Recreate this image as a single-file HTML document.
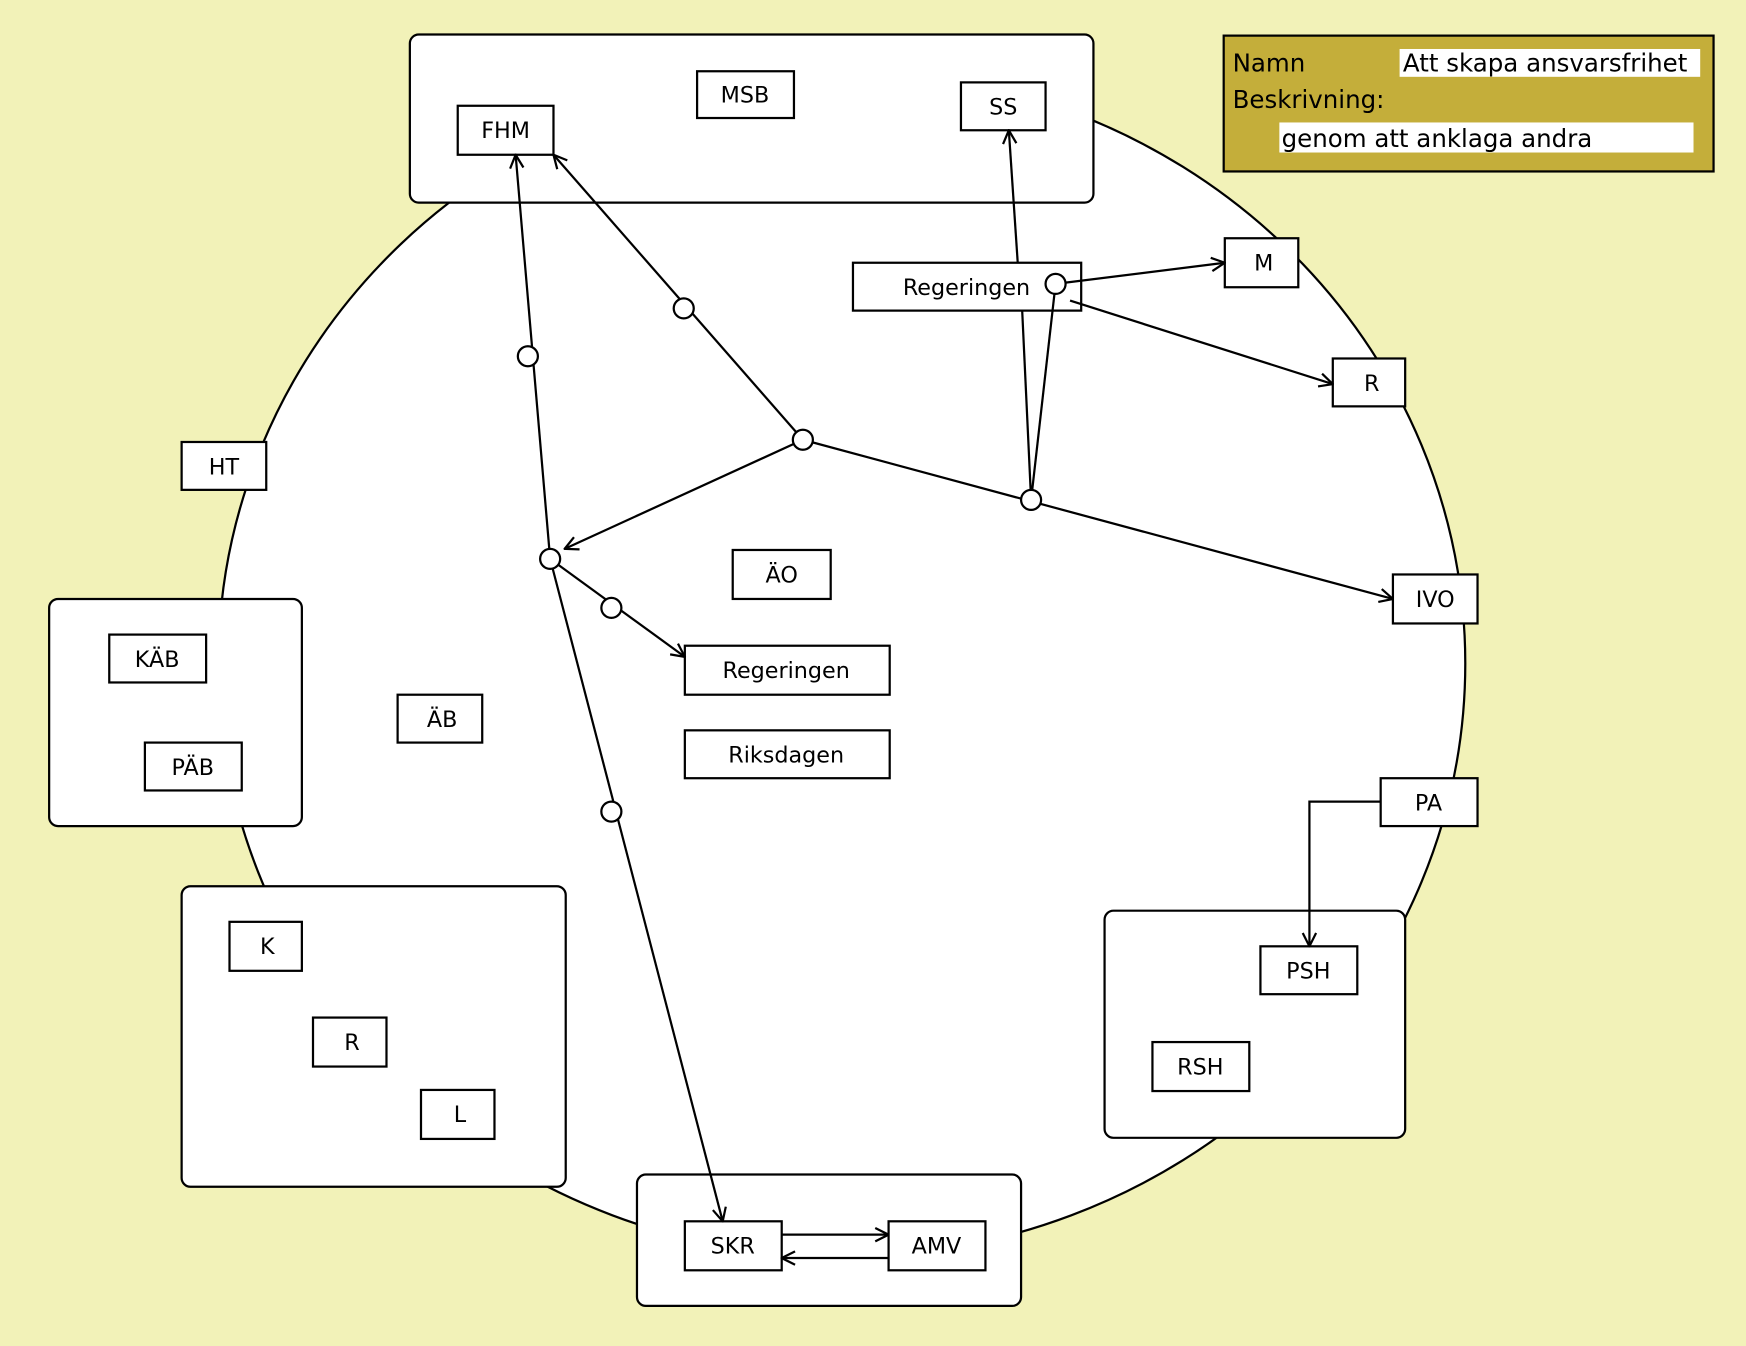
<!DOCTYPE html>
<html><head><meta charset="utf-8"><style>
html,body{margin:0;padding:0;background:#f2f2b8;}
svg{display:block;}
text{font-family:"DejaVu Sans","Liberation Sans",sans-serif;font-size:20px;fill:#000;}
.lg{font-size:22px;}
</style></head><body>
<svg width="1746" height="1346" viewBox="0 0 1566 1209" xmlns="http://www.w3.org/2000/svg">
<defs><marker id="a" markerWidth="14" markerHeight="14" refX="13" refY="7" orient="auto" markerUnits="userSpaceOnUse"><path d="M1,1 L13,7 L1,13" fill="none" stroke="#000" stroke-width="2"/></marker></defs>
<rect width="1566" height="1209" fill="#f2f2b8"/>
<ellipse cx="755" cy="596" rx="560" ry="533" fill="#fff" stroke="#000" stroke-width="2"/>
<g fill="#fff" stroke="#000" stroke-width="2">
<rect x="367" y="31" width="614" height="151" rx="8"/>
<rect x="43" y="538" width="227" height="204" rx="8"/>
<rect x="162" y="796" width="345" height="270" rx="8"/>
<rect x="991" y="818" width="270" height="204" rx="8"/>
<rect x="571" y="1055" width="345" height="118" rx="8"/>
<rect x="625" y="64" width="87" height="42"/>
<rect x="410" y="95" width="86" height="44"/>
<rect x="862" y="74" width="76" height="43"/>
<rect x="765" y="236" width="205" height="43"/>
<rect x="1099" y="214" width="66" height="44"/>
<rect x="1196" y="322" width="65" height="43"/>
<rect x="162" y="397" width="76" height="43"/>
<rect x="1250" y="516" width="76" height="44"/>
<rect x="657" y="494" width="88" height="44"/>
<rect x="614" y="580" width="184" height="44"/>
<rect x="614" y="656" width="184" height="43"/>
<rect x="356" y="624" width="76" height="43"/>
<rect x="1239" y="699" width="87" height="43"/>
<rect x="97" y="570" width="87" height="43"/>
<rect x="129" y="667" width="87" height="43"/>
<rect x="205" y="828" width="65" height="44"/>
<rect x="280" y="914" width="66" height="44"/>
<rect x="377" y="979" width="66" height="44"/>
<rect x="1131" y="850" width="87" height="43"/>
<rect x="1034" y="936" width="87" height="44"/>
<rect x="614" y="1097" width="87" height="44"/>
<rect x="797" y="1097" width="87" height="44"/>
</g>
<g fill="none" stroke="#000" stroke-width="2">
<line x1="493" y1="502" x2="462" y2="139" marker-end="url(#a)"/>
<line x1="493" y1="502" x2="648" y2="1097" marker-end="url(#a)"/>
<line x1="493" y1="502" x2="614" y2="590" marker-end="url(#a)"/>
<line x1="720" y1="395" x2="496" y2="139" marker-end="url(#a)"/>
<line x1="720" y1="395" x2="506" y2="493" marker-end="url(#a)"/>
<line x1="720" y1="395" x2="1250" y2="538" marker-end="url(#a)"/>
<line x1="925" y1="449" x2="917" y2="279"/>
<line x1="925" y1="449" x2="947" y2="255"/>
<line x1="947" y1="255" x2="1099" y2="236" marker-end="url(#a)"/>
<line x1="960" y1="270" x2="1196" y2="345" marker-end="url(#a)"/>
<line x1="913" y1="236" x2="905" y2="117" marker-end="url(#a)"/>
<polyline points="1239,720 1175,720 1175,850" marker-end="url(#a)"/>
<line x1="701" y1="1109" x2="797" y2="1109" marker-end="url(#a)"/>
<line x1="797" y1="1130" x2="701" y2="1130" marker-end="url(#a)"/>
</g>
<g fill="#fff" stroke="#000" stroke-width="2">
<circle cx="493" cy="502" r="9"/><circle cx="473" cy="320" r="9"/>
<circle cx="548" cy="729" r="9"/><circle cx="548" cy="546" r="9"/>
<circle cx="720" cy="395" r="9"/><circle cx="613" cy="277" r="9"/>
<circle cx="925" cy="449" r="9"/><circle cx="947" cy="255" r="9"/>
</g>
<g text-anchor="middle">
<text x="668" y="92">MSB</text>
<text x="453" y="124">FHM</text>
<text x="900" y="103">SS</text>
<text x="867" y="265">Regeringen</text>
<text x="1134" y="243">M</text>
<text x="1231" y="351">R</text>
<text x="200" y="426">HT</text>
<text x="1288" y="545">IVO</text>
<text x="701" y="523">ÄO</text>
<text x="705" y="609">Regeringen</text>
<text x="705" y="685">Riksdagen</text>
<text x="396" y="653">ÄB</text>
<text x="1282" y="728">PA</text>
<text x="140" y="599">KÄB</text>
<text x="172" y="696">PÄB</text>
<text x="239" y="857">K</text>
<text x="315" y="943">R</text>
<text x="412" y="1008">L</text>
<text x="1174" y="879">PSH</text>
<text x="1077" y="965">RSH</text>
<text x="657" y="1126">SKR</text>
<text x="840" y="1126">AMV</text>
</g>
<rect x="1098" y="32" width="440" height="122" fill="#c4ae3a" stroke="#000" stroke-width="2"/>
<rect x="1256" y="44" width="270" height="25" fill="#fff"/>
<rect x="1148" y="110" width="372" height="27" fill="#fff"/>
<text class="lg" x="1106" y="64">Namn</text>
<text class="lg" x="1259" y="64">Att skapa ansvarsfrihet</text>
<text class="lg" x="1106" y="97">Beskrivning:</text>
<text class="lg" x="1150" y="132">genom att anklaga andra</text>
</svg>
</body></html>
